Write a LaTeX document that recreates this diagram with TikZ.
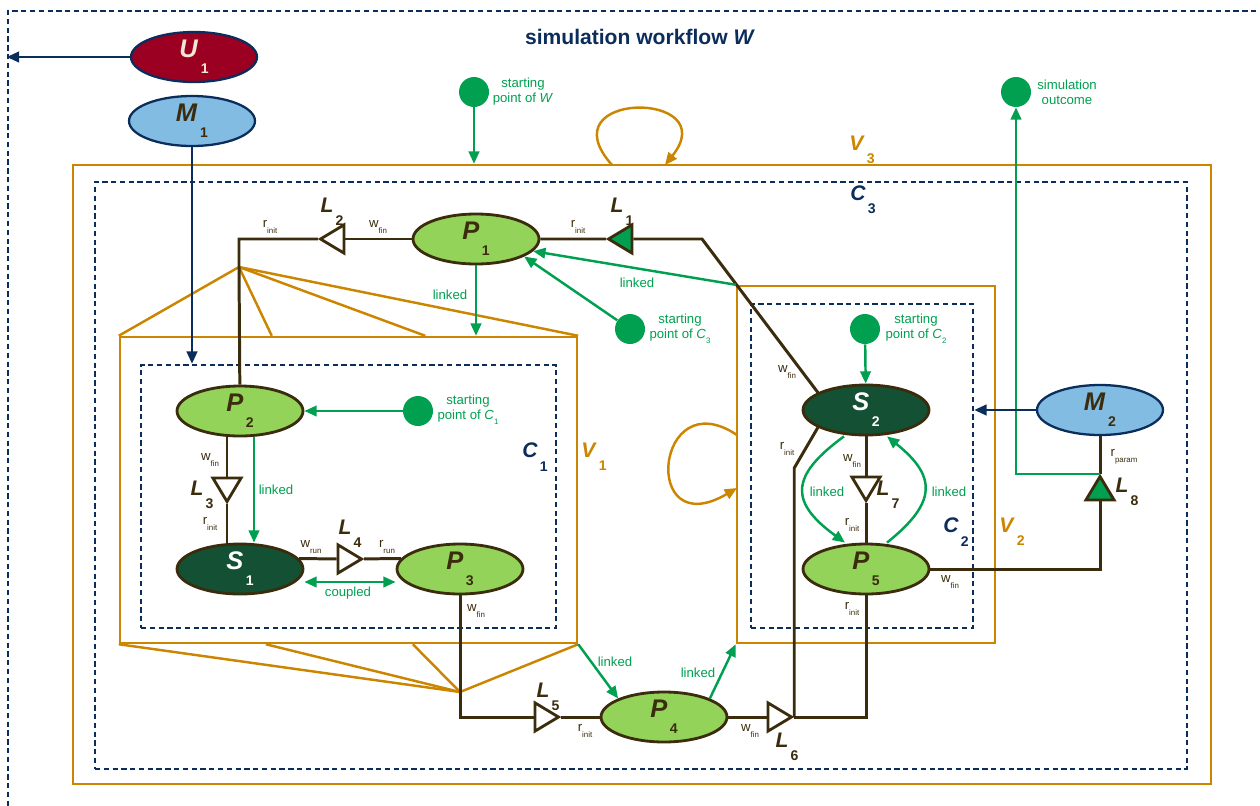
\documentclass[tikz,border=0pt]{standalone}
\usepackage{fontspec}
\setmainfont{Liberation Sans}
\usetikzlibrary{shapes.geometric,arrows.meta,fit,calc}

\definecolor{wfnavy}{HTML}{0B2D5B}
\definecolor{wforange}{HTML}{CC8500}
\definecolor{wfgreen}{HTML}{00A050}
\definecolor{wflight}{HTML}{93D35A}
\definecolor{wfdark}{HTML}{145034}
\definecolor{wfbrown}{HTML}{3A2C0C}
\definecolor{wfred}{HTML}{9B0022}
\definecolor{wfblue}{HTML}{82BCE2}
\definecolor{wfcream}{HTML}{F3E9D2}

\newcommand{\nlab}[2]{\textit{#1}\hspace{0.1em}\raisebox{-1.2ex}{\fontsize{8}{8}\selectfont #2}}
\newcommand{\port}[2]{#1\raisebox{-0.9ex}{\fontsize{4.5}{5}\selectfont #2}}
\newcommand{\gsub}[2]{\textit{#1}\raisebox{-0.7ex}{\fontsize{4.5}{5}\selectfont #2}}

\begin{document}
\begin{tikzpicture}[x=0.02cm, y=-0.02cm]
    % Define styles
    \tikzstyle{process} = [ellipse, minimum width=2.52cm, minimum height=1cm, inner sep=0pt, line width=1.6pt, draw=wfbrown, fill=wflight, text=wfbrown, font=\bfseries\fontsize{14.5}{14.5}\selectfont]
    \tikzstyle{solver} = [process, fill=wfdark, text=white]
    \tikzstyle{model} = [process, draw=wfnavy, fill=wfblue, line width=1.3pt]
    \tikzstyle{user} = [process, draw=wfnavy, fill=wfred, text=wfcream, line width=1.3pt]
    \tikzstyle{gate} = [isosceles triangle, isosceles triangle apex angle=62, minimum size=0.47cm, inner sep=0pt, draw=wfbrown, fill=white, line width=1.6pt]
    \tikzstyle{startpoint} = [circle, fill=wfgreen, minimum size=0.6cm, inner sep=0pt]
    \tikzstyle{variantline} = [draw=wforange, line width=1.4pt]
    \tikzstyle{variantbox} = [rectangle, variantline, inner sep=0pt]
    \tikzstyle{clusterbox} = [rectangle, draw=wfnavy, line width=1.4pt, dash pattern=on 3pt off 2pt, inner sep=0pt]
    \tikzstyle{dataline} = [draw=wfbrown, line width=1.7pt]
    \tikzstyle{linkarrow} = [draw=wfgreen, line width=1.4pt, ->, >={Triangle[length=7pt,width=6pt]}]
    \tikzstyle{navyarrow} = [draw=wfnavy, line width=1.4pt, ->, >={Triangle[length=7pt,width=6pt]}]
    \tikzstyle{looparrow} = [variantline, ->, >={Triangle[length=7pt,width=6pt]}]
    \tikzstyle{greentext} = [text=wfgreen, font=\fontsize{7.5}{8.5}\selectfont, align=center, inner sep=0pt]
    \tikzstyle{porttext} = [text=wfbrown, font=\fontsize{7.5}{8}\selectfont, inner sep=0pt]
    \tikzstyle{gatetext} = [text=wfbrown, font=\bfseries\fontsize{12}{12}\selectfont, inner sep=0pt]
    \tikzstyle{vtext} = [text=wforange, font=\bfseries\fontsize{12}{12}\selectfont, inner sep=0pt]
    \tikzstyle{ctext} = [text=wfnavy, font=\bfseries\fontsize{12}{12}\selectfont, inner sep=0pt]

    \useasboundingbox (0,0) rectangle (1260,805);

    % Containers
    \node (workflow) [clusterbox, fit={(8,11) (1290,830)}] {};
    \node (v3) [variantbox, fit={(73,165) (1211,784)}] {};
    \node (c3) [clusterbox, fit={(95,182) (1187,769)}] {};
    \node (v1) [variantbox, fit={(120,337) (577,643)}] {};
    \node (c1) [clusterbox, fit={(141,365) (556,628)}] {};
    \node (v2) [variantbox, fit={(737,286) (995,643)}] {};
    \node (c2) [clusterbox, fit={(751,304) (973,628)}] {};

    % Variant fans of V1
    \coordinate (v1apex) at (239,267);
    \coordinate (v1foot) at (460,692);
    \foreach \f in {0,0.333,0.667,1}
        \draw [variantline] (v1apex) -- ($(v1.north west)!\f!(v1.north east)$);
    \foreach \f in {0,0.32,0.64,1}
        \draw [variantline] (v1foot) -- ($(v1.south west)!\f!(v1.south east)$);

    % Components
    \node (u1) [user] at (194,57) {\nlab{U}{1}};
    \node (m1) [model] at (192,121) {\nlab{M}{1}};
    \node (p1) [process] at (476,239) {\nlab{P}{1}};
    \node (p2) [process] at (240,411) {\nlab{P}{2}};
    \node (s1) [solver] at (240,569) {\nlab{S}{1}};
    \node (p3) [process] at (460,569) {\nlab{P}{3}};
    \node (p4) [process] at (664,717) {\nlab{P}{4}};
    \node (s2) [solver] at (866,410) {\nlab{S}{2}};
    \node (p5) [process] at (866,569) {\nlab{P}{5}};
    \node (m2) [model] at (1100,410) {\nlab{M}{2}};

    % Links
    \node (l1) [gate, fill=wfgreen, shape border rotate=180] at (624,239) {};
    \node (l2) [gate, shape border rotate=180] at (336,239) {};
    \node (l3) [gate, shape border rotate=270] at (227,486) {};
    \node (l4) [gate] at (346,559) {};
    \node (l5) [gate] at (543,717) {};
    \node (l6) [gate] at (776,717) {};
    \node (l7) [gate, shape border rotate=270] at (866,485) {};
    \node (l8) [gate, fill=wfgreen, shape border rotate=90] at (1100,492) {};

    % Starting points
    \node (start_w) [startpoint] at (474,92) {};
    \node (outcome) [startpoint] at (1016,92) {};
    \node (start_c3) [startpoint] at (630,329) {};
    \node (start_c1) [startpoint] at (418,411) {};
    \node (start_c2) [startpoint] at (865,329) {};

    % Data flow
    \coordinate (bend_s2) at (702,239);
    \coordinate (bend_l6) at ($(l6.apex)+(0,-249)$);
    \draw [dataline] (p1) -- (l2);
    \draw [dataline] (l2) -| (v1apex) -- (p2);
    \draw [dataline] (p1) -- (l1) -- (bend_s2) -- (s2.160);
    \draw [dataline] ($(p2.south)+(-13,0)$) -- (l3) -- ($(s1.north)+(-13,0)$);
    \draw [dataline] (s1.10) -- (l4) -- (p3.170);
    \draw [dataline] (p3) |- (l5) -- (p4);
    \draw [dataline] (p4) -- (l6);
    \draw [dataline] (l6.apex) -| (p5);
    \draw [dataline] (l6.apex) -- (bend_l6) -- (s2.200);
    \draw [dataline] (s2) -- (l7) -- (p5);
    \draw [dataline] (p5) -| (l8) -- (m2);

    % Linked and coupled
    \draw [linkarrow] (start_w) -- (start_w |- v3.north);
    \draw [linkarrow] (l8.apex) -| (outcome);
    \draw [linkarrow] (start_c3) -- (p1.-20);
    \draw [linkarrow] (v2.north west) -- (p1.-12);
    \draw [linkarrow] (p1) -- (p1 |- v1.north);
    \draw [linkarrow] (start_c1) -- (p2);
    \draw [linkarrow] ($(p2.south)+(14,0)$) -- ($(s1.north)+(14,0)$);
    \draw [linkarrow, <->] ($(s1.east)+(0,13)$) -- ($(p3.west)+(0,13)$);
    \draw [linkarrow] (v1.south east) -- (p4.158);
    \draw [linkarrow] (p4.22) -- (v2.south west);
    \draw [linkarrow] (start_c2) -- (s2);
    \draw [linkarrow] ($(s2.south)+(-22,0)$) .. controls +(-55,40) and +(-55,-40) .. ($(p5.north)+(-21,0)$);
    \draw [linkarrow] ($(p5.north)+(21,0)$) .. controls +(50,-40) and +(50,40) .. ($(s2.south)+(21,0)$);

    % Models and user
    \draw [navyarrow] (u1) -- (u1 -| workflow.west);
    \draw [navyarrow] (m1) -- (m1 |- c1.north);
    \draw [navyarrow] (m2) -- (m2 -| c2.east);

    % Variant loops
    \coordinate (loop3_out) at (612,165);
    \coordinate (loop3_in) at (665,165);
    \draw [looparrow] (loop3_out) .. controls +(-67,-75) and +(60,-75) .. (loop3_in);
    \coordinate (loop2_out) at (737,435);
    \coordinate (loop2_in) at (737,488);
    \draw [looparrow] (loop2_out) .. controls +(-82,-55) and +(-97,57) .. (loop2_in);

    % Labels
    \node (title) [text=wfnavy, font=\bfseries\fontsize{12}{12}\selectfont] at (640,37) {simulation workflow \textit{W}};
    \node (v3_lab) [vtext] at (862,150) {\nlab{V}{3}};
    \node (c3_lab) [ctext] at (863,200) {\nlab{C}{3}};
    \node (v1_lab) [vtext] at (594,457) {\nlab{V}{1}};
    \node (c1_lab) [ctext] at (535,457) {\nlab{C}{1}};
    \node (v2_lab) [vtext] at (1012,532) {\nlab{V}{2}};
    \node (c2_lab) [ctext] at (956,532) {\nlab{C}{2}};

    \node (l1_lab) [gatetext] at (622,212) {\nlab{L}{1}};
    \node (l2_lab) [gatetext] at (332,212) {\nlab{L}{2}};
    \node (l3_lab) [gatetext] at (202,495) {\nlab{L}{3}};
    \node (l4_lab) [gatetext] at (350,534) {\nlab{L}{4}};
    \node (l5_lab) [gatetext] at (548,697) {\nlab{L}{5}};
    \node (l6_lab) [gatetext] at (787,747) {\nlab{L}{6}};
    \node (l7_lab) [gatetext] at (888,495) {\nlab{L}{7}};
    \node (l8_lab) [gatetext] at (1127,492) {\nlab{L}{8}};

    \node (start_w_lab) [greentext] at (523,92) {starting\\point of \textit{W}};
    \node (outcome_lab) [greentext] at (1067,92) {simulation\\outcome};
    \node (start_c3_lab) [greentext] at (680,329) {starting\\point of \gsub{C}{3}};
    \node (start_c1_lab) [greentext] at (468,410) {starting\\point of \gsub{C}{1}};
    \node (start_c2_lab) [greentext] at (916,329) {starting\\point of \gsub{C}{2}};
    \node (lk_p1) [greentext] at (450,295) {linked};
    \node (lk_v2p1) [greentext] at (637,283) {linked};
    \node (lk_p2) [greentext] at (276,490) {linked};
    \node (lk_v1p4) [greentext] at (615,662) {linked};
    \node (lk_p4v2) [greentext] at (698,673) {linked};
    \node (lk_s2p5) [greentext] at (827,492) {linked};
    \node (lk_p5s2) [greentext] at (949,492) {linked};
    \node (cp_s1p3) [greentext] at (348,593) {coupled};

    \node (pt1) [porttext] at (270,227) {\port{r}{init}};
    \node (pt2) [porttext] at (378,227) {\port{w}{fin}};
    \node (pt3) [porttext] at (578,227) {\port{r}{init}};
    \node (pt4) [porttext] at (787,372) {\port{w}{fin}};
    \node (pt5) [porttext] at (787,449) {\port{r}{init}};
    \node (pt6) [porttext] at (210,460) {\port{w}{fin}};
    \node (pt7) [porttext] at (210,524) {\port{r}{init}};
    \node (pt8) [porttext] at (311,547) {\port{w}{run}};
    \node (pt9) [porttext] at (387,547) {\port{r}{run}};
    \node (pt10) [porttext] at (476,611) {\port{w}{fin}};
    \node (pt11) [porttext] at (585,731) {\port{r}{init}};
    \node (pt12) [porttext] at (750,731) {\port{w}{fin}};
    \node (pt13) [porttext] at (852,461) {\port{w}{fin}};
    \node (pt14) [porttext] at (852,525) {\port{r}{init}};
    \node (pt15) [porttext] at (852,609) {\port{r}{init}};
    \node (pt16) [porttext] at (950,582) {\port{w}{fin}};
    \node (pt17) [porttext] at (1124,457) {\port{r}{param}};
\end{tikzpicture}
\end{document}
